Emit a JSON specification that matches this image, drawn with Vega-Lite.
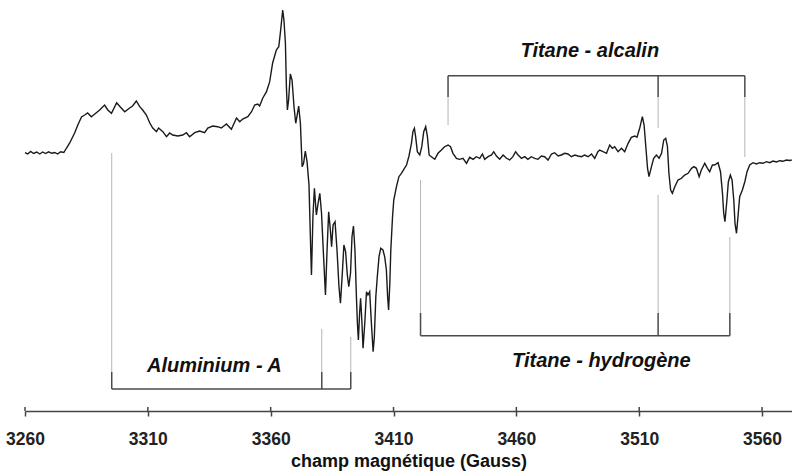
{
  "$schema": "https://vega.github.io/schema/vega-lite/v6.json",
  "autosize": "none",
  "width": 767,
  "height": 411,
  "padding": {"left": 25, "top": 0, "right": 0, "bottom": 61},
  "background": "white",
  "config": {"view": {"stroke": null}, "font": "Liberation Sans"},
  "datasets": {
    "spectrum": [
      {"B":3260.0,"I":0.3},{"B":3261.1,"I":-1},{"B":3262.3,"I":1.5},{"B":3263.5,"I":-0.5},{"B":3264.8,"I":1},{"B":3266.0,"I":-1},{"B":3267.2,"I":1},{"B":3268.4,"I":-0.5},{"B":3269.6,"I":1.2},{"B":3270.9,"I":-0.3},{"B":3272.1,"I":0.5},{"B":3273.3,"I":-1},{"B":3274.5,"I":1.2},{"B":3275.8,"I":0.5},
      {"B":3276.9,"I":5},{"B":3278.2,"I":10},{"B":3280.2,"I":20},{"B":3281.5,"I":28},{"B":3283.0,"I":36},{"B":3284.3,"I":38},{"B":3285.5,"I":40},{"B":3287.0,"I":36.3},{"B":3288.4,"I":39},{"B":3290.4,"I":43},{"B":3292.4,"I":48},{"B":3293.7,"I":43},{"B":3295.2,"I":39.7},{"B":3297.3,"I":50.3},{"B":3298.8,"I":46},{"B":3300.6,"I":41.3},{"B":3302.6,"I":45},{"B":3303.8,"I":47},{"B":3305.3,"I":52},{"B":3306.7,"I":46.3},{"B":3307.9,"I":43},{"B":3309.4,"I":38},{"B":3310.8,"I":30},{"B":3312.0,"I":25},{"B":3313.5,"I":21.3},{"B":3314.4,"I":25},{"B":3316.1,"I":21.3},{"B":3317.6,"I":16.3},{"B":3318.9,"I":20},{"B":3320.1,"I":18},{"B":3322.2,"I":17},{"B":3324.2,"I":18},{"B":3325.7,"I":20.3},{"B":3327.0,"I":16.3},{"B":3329.1,"I":20.3},{"B":3331.1,"I":22},{"B":3333.1,"I":20.3},{"B":3334.4,"I":25},{"B":3336.4,"I":27},{"B":3338.4,"I":26.3},{"B":3339.9,"I":25},{"B":3342.0,"I":29},{"B":3344.0,"I":23.7},{"B":3346.1,"I":35},{"B":3347.4,"I":31.3},{"B":3348.6,"I":34},{"B":3350.7,"I":36.3},{"B":3352.2,"I":41.3},{"B":3353.5,"I":48},{"B":3354.7,"I":49},{"B":3355.5,"I":47},{"B":3356.8,"I":55},{"B":3358.3,"I":61.3},{"B":3359.6,"I":71.3},{"B":3360.8,"I":90},{"B":3362.3,"I":103},{"B":3363.3,"I":106.3},{"B":3364.0,"I":121.3},{"B":3364.9,"I":143},{"B":3365.4,"I":133},{"B":3366.0,"I":109.7},{"B":3366.4,"I":66.3},{"B":3366.8,"I":43},{"B":3367.3,"I":53},{"B":3368.0,"I":79},{"B":3368.7,"I":73},{"B":3369.5,"I":46.3},{"B":3370.2,"I":29.7},{"B":3370.9,"I":39.7},{"B":3371.4,"I":47},{"B":3372.1,"I":29.7},{"B":3372.8,"I":-13.7},{"B":3373.4,"I":-10.3},{"B":3374.1,"I":2},{"B":3374.8,"I":-8.7},{"B":3375.6,"I":-32},{"B":3376.3,"I":-97},{"B":3376.6,"I":-122},{"B":3377.2,"I":-63.7},{"B":3377.8,"I":-35.3},{"B":3378.6,"I":-62},{"B":3379.3,"I":-50.3},{"B":3380.0,"I":-40.3},{"B":3380.7,"I":-60.3},{"B":3381.6,"I":-107},{"B":3382.3,"I":-142},{"B":3382.9,"I":-100.3},{"B":3383.6,"I":-58.7},{"B":3384.3,"I":-77},{"B":3384.8,"I":-93.7},{"B":3385.4,"I":-72},{"B":3386.2,"I":-68.7},{"B":3387.0,"I":-97},{"B":3387.8,"I":-133.7},{"B":3388.4,"I":-150.3},{"B":3389.2,"I":-118.7},{"B":3389.8,"I":-92},{"B":3390.5,"I":-98.7},{"B":3391.2,"I":-122},{"B":3391.8,"I":-133.7},{"B":3392.5,"I":-120.3},{"B":3393.1,"I":-83.7},{"B":3393.7,"I":-73},{"B":3394.3,"I":-97},{"B":3394.9,"I":-143.7},{"B":3395.3,"I":-170.3},{"B":3395.7,"I":-187},{"B":3396.2,"I":-160.3},{"B":3396.6,"I":-145.3},{"B":3397.1,"I":-167},{"B":3397.6,"I":-195.3},{"B":3398.3,"I":-170.3},{"B":3399.0,"I":-138.7},{"B":3399.6,"I":-142},{"B":3400.3,"I":-138.7},{"B":3401.0,"I":-170.3},{"B":3401.7,"I":-198.7},{"B":3402.2,"I":-183.7},{"B":3402.8,"I":-143.7},{"B":3403.4,"I":-123.7},{"B":3404.1,"I":-103.7},{"B":3404.8,"I":-95.3},{"B":3405.7,"I":-97},{"B":3406.4,"I":-103.7},{"B":3407.1,"I":-117},{"B":3407.6,"I":-143.7},{"B":3408.0,"I":-157},{"B":3408.5,"I":-130.3},{"B":3408.9,"I":-97},{"B":3409.6,"I":-63.7},{"B":3410.1,"I":-47},{"B":3411.2,"I":-33.7},{"B":3412.2,"I":-23.7},{"B":3413.2,"I":-20.3},{"B":3414.2,"I":-16.3},{"B":3415.3,"I":-12},{"B":3416.3,"I":-3},{"B":3417.3,"I":9.7},{"B":3417.9,"I":21.3},{"B":3418.5,"I":24.7},{"B":3419.0,"I":16.3},{"B":3419.7,"I":1.3},{"B":3420.7,"I":-2},{"B":3421.5,"I":6.3},{"B":3422.3,"I":21.3},{"B":3423.1,"I":26.3},{"B":3423.8,"I":16.3},{"B":3424.5,"I":-2},{"B":3425.4,"I":-3.7},{"B":3426.8,"I":-6.3},{"B":3428.1,"I":-0.3},{"B":3429.5,"I":3},{"B":3430.8,"I":6.3},{"B":3432.2,"I":8},{"B":3433.2,"I":6.3},{"B":3434.2,"I":-0.3},{"B":3435.6,"I":-5.3},{"B":3436.9,"I":-6.3},{"B":3438.3,"I":-5.3},{"B":3439.7,"I":-10.3},{"B":3441.0,"I":-4.3},{"B":3442.4,"I":-6.3},{"B":3443.7,"I":-3.7},{"B":3445.1,"I":-5.3},{"B":3446.2,"I":-1},{"B":3447.1,"I":-6.3},{"B":3448.5,"I":-3.7},{"B":3449.9,"I":-2},{"B":3450.8,"I":1.3},{"B":3451.9,"I":-3},{"B":3453.2,"I":-6.3},{"B":3454.6,"I":-2},{"B":3456.0,"I":-5.3},{"B":3457.3,"I":-7},{"B":3458.6,"I":-3.7},{"B":3459.7,"I":1.3},{"B":3460.7,"I":-2},{"B":3462.1,"I":-5.3},{"B":3463.4,"I":-3.7},{"B":3464.7,"I":-6.3},{"B":3466.1,"I":-3.7},{"B":3467.5,"I":-5.3},{"B":3468.8,"I":-6.3},{"B":3470.2,"I":-3},{"B":3471.5,"I":-3.7},{"B":3472.9,"I":-7},{"B":3474.3,"I":-1},{"B":3475.6,"I":0.3},{"B":3477.0,"I":-3},{"B":3478.3,"I":-2},{"B":3479.7,"I":-0.3},{"B":3481.0,"I":-1},{"B":3482.4,"I":-3.7},{"B":3483.8,"I":-2},{"B":3485.1,"I":-3},{"B":3486.5,"I":-3.7},{"B":3487.8,"I":-2},{"B":3489.2,"I":-3.7},{"B":3490.6,"I":-1},{"B":3491.9,"I":-5.3},{"B":3493.2,"I":1.3},{"B":3493.9,"I":3},{"B":3495.3,"I":1.3},{"B":3496.7,"I":-0.3},{"B":3498.0,"I":8},{"B":3499.1,"I":4.7},{"B":3500.0,"I":6.3},{"B":3501.4,"I":1.3},{"B":3502.8,"I":4.7},{"B":3504.1,"I":1.3},{"B":3505.5,"I":9.7},{"B":3506.8,"I":15.7},{"B":3508.2,"I":17},{"B":3509.1,"I":15.7},{"B":3510.2,"I":24.7},{"B":3511.3,"I":36.3},{"B":3512.0,"I":28},{"B":3512.7,"I":6.3},{"B":3513.4,"I":-15.3},{"B":3514.0,"I":-23.7},{"B":3515.0,"I":-13.7},{"B":3515.9,"I":-5.3},{"B":3517.0,"I":-2},{"B":3518.1,"I":-5.3},{"B":3519.1,"I":-0.3},{"B":3520.0,"I":13},{"B":3520.8,"I":14.7},{"B":3521.5,"I":6.3},{"B":3522.1,"I":-20.3},{"B":3522.8,"I":-37},{"B":3523.5,"I":-40.3},{"B":3524.5,"I":-33.7},{"B":3525.8,"I":-27},{"B":3527.2,"I":-25.3},{"B":3528.5,"I":-22},{"B":3529.9,"I":-20.3},{"B":3531.3,"I":-15.3},{"B":3532.3,"I":-13.7},{"B":3533.3,"I":-15.3},{"B":3534.4,"I":-23.7},{"B":3535.3,"I":-17},{"B":3536.7,"I":-10.3},{"B":3537.8,"I":-15.3},{"B":3538.7,"I":-18.7},{"B":3539.8,"I":-12},{"B":3540.7,"I":-12},{"B":3542.1,"I":-9.7},{"B":3543.1,"I":-18.7},{"B":3543.9,"I":-40.3},{"B":3544.4,"I":-60.3},{"B":3544.9,"I":-68.7},{"B":3545.6,"I":-50.3},{"B":3546.3,"I":-28.7},{"B":3547.1,"I":-22},{"B":3547.8,"I":-27},{"B":3548.5,"I":-47},{"B":3549.0,"I":-70.3},{"B":3549.6,"I":-80.3},{"B":3550.1,"I":-67},{"B":3550.9,"I":-43.7},{"B":3552.0,"I":-37},{"B":3553.0,"I":-28.7},{"B":3553.9,"I":-18.7},{"B":3555.0,"I":-12},{"B":3556.3,"I":-9.7},{"B":3557.7,"I":-11},{"B":3559.1,"I":-9.7},{"B":3560.4,"I":-10.3},{"B":3561.8,"I":-8.7},{"B":3563.1,"I":-9.7},{"B":3564.5,"I":-8},{"B":3565.9,"I":-9},{"B":3567.2,"I":-7.7},{"B":3568.5,"I":-8.3},{"B":3569.9,"I":-7},{"B":3571.3,"I":-7.5},{"B":3572.1,"I":-7}
    ],
    "lines": [
      {"kind":"bracket","B":3295.3,"B2":3392.6,"I":-236,"I2":-236},
      {"kind":"bracket","B":3295.3,"B2":3295.3,"I":-219,"I2":-236},
      {"kind":"bracket","B":3380.8,"B2":3380.8,"I":-219,"I2":-236},
      {"kind":"bracket","B":3392.6,"B2":3392.6,"I":-219,"I2":-236},
      {"kind":"drop","B":3295.3,"B2":3295.3,"I":0,"I2":-219},
      {"kind":"drop","B":3380.8,"B2":3380.8,"I":-176,"I2":-219},
      {"kind":"drop","B":3392.6,"B2":3392.6,"I":-184,"I2":-219},
      {"kind":"bracket","B":3421.0,"B2":3546.9,"I":-182.7,"I2":-182.7},
      {"kind":"bracket","B":3421.0,"B2":3421.0,"I":-160,"I2":-182.7},
      {"kind":"bracket","B":3517.7,"B2":3517.7,"I":-160,"I2":-182.7},
      {"kind":"bracket","B":3546.9,"B2":3546.9,"I":-160,"I2":-182.7},
      {"kind":"drop","B":3421.0,"B2":3421.0,"I":-27,"I2":-160},
      {"kind":"drop","B":3517.7,"B2":3517.7,"I":-42,"I2":-160},
      {"kind":"drop","B":3546.9,"B2":3546.9,"I":-84,"I2":-160},
      {"kind":"bracket","B":3432.2,"B2":3553.0,"I":77.3,"I2":77.3},
      {"kind":"bracket","B":3432.2,"B2":3432.2,"I":77.3,"I2":56},
      {"kind":"bracket","B":3517.7,"B2":3517.7,"I":77.3,"I2":56},
      {"kind":"bracket","B":3553.0,"B2":3553.0,"I":77.3,"I2":56},
      {"kind":"drop","B":3432.2,"B2":3432.2,"I":56,"I2":28},
      {"kind":"drop","B":3517.7,"B2":3517.7,"I":56,"I2":25},
      {"kind":"drop","B":3553.0,"B2":3553.0,"I":56,"I2":-4}
    ],
    "labels": [
      {"B":3337.1,"I":-219,"text":"Aluminium - A"},
      {"B":3494.6,"I":-213.7,"text":"Titane - hydrogène"},
      {"B":3489.9,"I":96.3,"text":"Titane - alcalin"}
    ],
    "ticks": [
      {"B":3260,"I":-258,"I2":-254},{"B":3310,"I":-258,"I2":-254},{"B":3360,"I":-258,"I2":-254},{"B":3410,"I":-258,"I2":-254},{"B":3460,"I":-258,"I2":-254},{"B":3510,"I":-258,"I2":-254},{"B":3560,"I":-258,"I2":-254}
    ]
  },
  "encoding": {
    "x": {
      "field": "B", "type": "quantitative",
      "scale": {"domain": [3260, 3572.2], "nice": false, "zero": false},
      "axis": {
        "values": [3260, 3310, 3360, 3410, 3460, 3510, 3560],
        "format": "d",
        "grid": false,
        "domainColor": "#444", "domainWidth": 1.5,
        "tickColor": "#444", "tickWidth": 1.5, "tickSize": 5,
        "labelFont": "Liberation Sans", "labelFontSize": 17.5, "labelFontWeight": "bold", "labelColor": "#222",
        "labelPadding": 14, "labelFlush": false, "labelOverlap": false,
        "title": "champ magnétique (Gauss)",
        "titleFont": "Liberation Sans", "titleFontSize": 18, "titleFontWeight": "bold", "titleColor": "#111",
        "titlePadding": 5
      }
    },
    "y": {
      "field": "I", "type": "quantitative",
      "scale": {"domain": [-258, 153], "nice": false, "zero": false},
      "axis": null
    }
  },
  "layer": [
    {
      "data": {"name": "lines"},
      "transform": [{"filter": "datum.kind === 'drop'"}],
      "mark": {"type": "rule", "color": "#b5b5b5", "strokeWidth": 1},
      "encoding": {"x2": {"field": "B2"}, "y2": {"field": "I2"}}
    },
    {
      "data": {"name": "lines"},
      "transform": [{"filter": "datum.kind === 'bracket'"}],
      "mark": {"type": "rule", "color": "#4a4a4a", "strokeWidth": 1.5},
      "encoding": {"x2": {"field": "B2"}, "y2": {"field": "I2"}}
    },
    {
      "data": {"name": "ticks"},
      "mark": {"type": "rule", "color": "#444", "strokeWidth": 1.5},
      "encoding": {"y2": {"field": "I2"}}
    },
    {
      "data": {"name": "spectrum"},
      "mark": {"type": "line", "color": "#1a1a1a", "strokeWidth": 1.4, "interpolate": "linear"}
    },
    {
      "data": {"name": "labels"},
      "mark": {"type": "text", "font": "Liberation Sans", "fontSize": 20, "fontWeight": "bold", "fontStyle": "italic", "color": "#111", "baseline": "alphabetic", "align": "center"},
      "encoding": {"text": {"field": "text"}}
    }
  ]
}
